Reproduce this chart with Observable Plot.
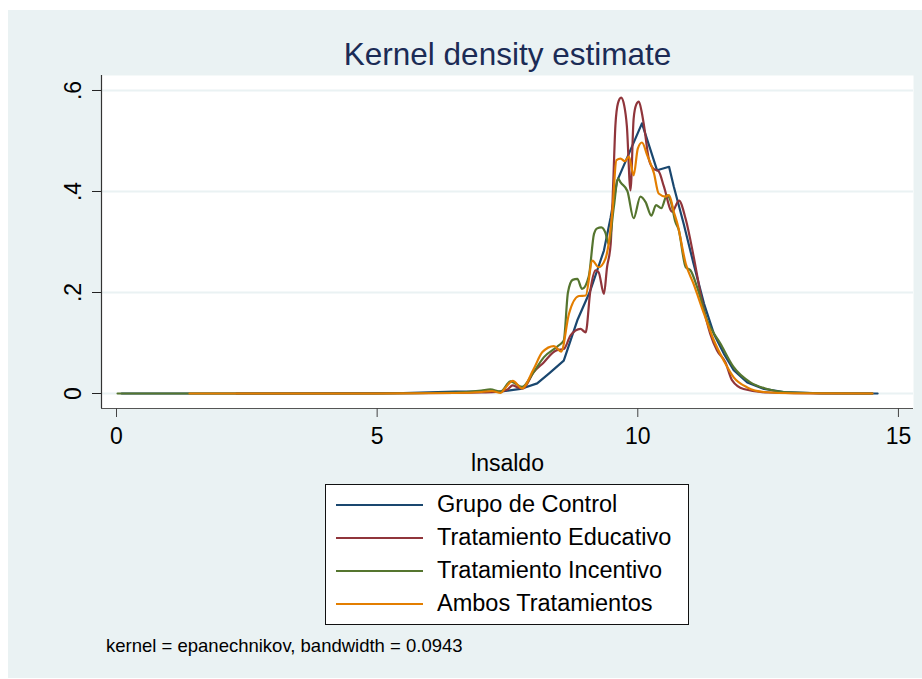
<!DOCTYPE html>
<html>
<head>
<meta charset="utf-8">
<script src="https://cdn.jsdelivr.net/npm/d3@7"></script>
<script src="https://cdn.jsdelivr.net/npm/@observablehq/plot@0.6"></script>
<style>
  html, body { margin: 0; padding: 0; background: #ffffff; }
  #wrap { position: relative; width: 922px; height: 679px; overflow: hidden; font-family: "Liberation Sans", Arial, sans-serif; }
  #bg { position: absolute; left: 8px; top: 10px; right: 0; bottom: 1px; background: #EAF2F3; }
  #chart { position: absolute; left: 0; top: 0; }
  #legend { position: absolute; left: 325px; top: 484px; width: 364px; height: 141px; box-sizing: border-box;
            border: 1px solid #111; background: #fff; padding-top: 3.5px; }
  .row { display: flex; align-items: center; height: 33px; }
  .sw { width: 87px; height: 2px; margin-left: 10px; margin-right: 14px; }
  .lab { font-size: 23.5px; line-height: 1; color: #000; white-space: nowrap; }
  #caption { position: absolute; left: 106px; top: 637.3px; font-size: 18.5px; line-height: 18.5px; color: #000; white-space: nowrap; }
</style>
</head>
<body>
<div id="wrap">
  <div id="bg"></div>
  <div id="chart"></div>
  <div id="legend"></div>
  <div id="caption"></div>
</div>
<script>
const seriesNames = ["Grupo de Control", "Tratamiento Educativo", "Tratamiento Incentivo", "Ambos Tratamientos"];
const seriesColors = ["#1a476f", "#90353b", "#55752f", "#e37e00"];

// [lnsaldo, density]
const control = [[0.1,0],[3.0,0],[5.5,0.001],[6.5,0.004],[7.0,0.004],[7.3,0.003],[7.75,0.009],[8.07,0.02],[8.3,0.04],[8.58,0.065],[8.84,0.145],[9.09,0.204],[9.35,0.283],[9.48,0.349],[9.6,0.42],[10.08,0.535],[10.37,0.442],[10.6,0.449],[10.69,0.41],[10.88,0.336],[11.07,0.257],[11.27,0.178],[11.46,0.118],[11.65,0.079],[11.84,0.046],[12.1,0.022],[12.42,0.009],[12.8,0.003],[13.5,0.0005],[14.6,0]];

const educativo = [[2.3,0],[5.0,0],[6.5,0.001],[7.0,0.002],[7.3,0.003],[7.5,0.008],[7.6,0.016],[7.7,0.012],[7.8,0.01],[8.0,0.042],[8.2,0.062],[8.36,0.08],[8.45,0.086],[8.58,0.088],[8.71,0.115],[8.9,0.128],[9.0,0.121],[9.09,0.204],[9.19,0.244],[9.25,0.24],[9.35,0.197],[9.41,0.25],[9.48,0.296],[9.53,0.42],[9.57,0.53],[9.62,0.575],[9.68,0.586],[9.74,0.57],[9.79,0.53],[9.86,0.402],[9.92,0.544],[9.97,0.572],[10.02,0.578],[10.07,0.56],[10.12,0.53],[10.21,0.465],[10.3,0.445],[10.4,0.44],[10.5,0.41],[10.66,0.36],[10.79,0.382],[10.92,0.345],[11.07,0.272],[11.23,0.184],[11.39,0.118],[11.52,0.085],[11.68,0.062],[11.81,0.026],[12.03,0.009],[12.5,0.002],[13.5,0],[14.5,0]];

const incentivo = [[0.02,0],[5.0,0],[6.5,0.002],[7.0,0.006],[7.17,0.008],[7.37,0.004],[7.56,0.024],[7.78,0.013],[8.0,0.042],[8.2,0.072],[8.48,0.095],[8.58,0.105],[8.66,0.2],[8.75,0.225],[8.84,0.227],[8.93,0.207],[9.06,0.232],[9.16,0.316],[9.22,0.327],[9.3,0.329],[9.38,0.318],[9.44,0.296],[9.54,0.369],[9.62,0.426],[9.67,0.418],[9.8,0.401],[9.92,0.347],[10.05,0.39],[10.15,0.379],[10.26,0.352],[10.35,0.373],[10.45,0.367],[10.56,0.393],[10.64,0.378],[10.72,0.34],[10.78,0.326],[10.92,0.25],[11.01,0.244],[11.14,0.21],[11.33,0.145],[11.59,0.098],[11.84,0.052],[12.16,0.022],[12.48,0.009],[12.8,0.003],[13.5,0.0005],[14.5,0]];

const ambos = [[1.4,0],[5.0,0],[6.5,0.001],[7.0,0.003],[7.2,0.005],[7.37,0.001],[7.45,0.01],[7.6,0.025],[7.78,0.01],[8.0,0.048],[8.17,0.082],[8.39,0.094],[8.53,0.083],[8.68,0.158],[8.87,0.193],[9.0,0.194],[9.13,0.263],[9.25,0.25],[9.38,0.267],[9.51,0.358],[9.59,0.462],[9.67,0.465],[9.75,0.46],[9.83,0.469],[9.92,0.432],[10.0,0.485],[10.08,0.497],[10.18,0.472],[10.31,0.436],[10.4,0.396],[10.53,0.39],[10.6,0.393],[10.69,0.36],[10.76,0.336],[10.92,0.257],[11.07,0.217],[11.27,0.158],[11.46,0.105],[11.65,0.065],[11.84,0.032],[12.1,0.012],[12.42,0.003],[13.0,0.0005],[14.5,0]];

const xTicks = [0, 5, 10, 15];
const yTicks = [0, 0.2, 0.4, 0.6];
const yTickLabels = ["0", ".2", ".4", ".6"];
const titleText = "Kernel density estimate";
const xLabel = "lnsaldo";
const captionText = "kernel = epanechnikov, bandwidth = 0.0943";

const xDomain = [-0.288, 15.289];
const yDomain = [-0.0297, 0.6297];

const seriesData = [control, educativo, incentivo, ambos];
const curves = ["linear", "monotone-x", "monotone-x", "monotone-x"];

const lineMarks = seriesData.map((pts, i) =>
  Plot.line(pts, {x: d => d[0], y: d => d[1], stroke: seriesColors[i], strokeWidth: 2.2, curve: curves[i]})
);

const chart = Plot.plot({
  width: 922,
  height: 679,
  marginLeft: 101,
  marginRight: 9,
  marginTop: 75,
  marginBottom: 271,
  x: {domain: xDomain},
  y: {domain: yDomain},
  style: {background: "transparent", fontFamily: "Liberation Sans, Arial, sans-serif", fontSize: "23px", color: "#000"},
  marks: [
    Plot.frame({fill: "white", stroke: null}),
    Plot.gridY(yTicks, {stroke: "#EAF2F3", strokeOpacity: 1, strokeWidth: 2}),
    ...lineMarks,
    Plot.ruleX([xDomain[0]], {stroke: "#333", strokeWidth: 1.2}),
    Plot.ruleY([yDomain[0]], {stroke: "#555", strokeWidth: 1.2}),
    Plot.axisX({ticks: xTicks, tickSize: 9, tickPadding: 10, label: null, stroke: "#444"}),
    Plot.axisY({ticks: yTicks, tickSize: 9, tickFormat: () => "", label: null, stroke: "#222"}),
    Plot.text(yTicks, {y: d => d, text: (d, i) => yTickLabels[i], frameAnchor: "left", dx: -28, rotate: -90, textAnchor: "middle", lineAnchor: "middle"}),
    Plot.text([xLabel], {text: d => d, frameAnchor: "bottom", dy: 62, lineAnchor: "bottom"}),
    Plot.text([titleText], {text: d => d, frameAnchor: "top", dy: -11, lineAnchor: "bottom", fontSize: 31.5, fill: "#1b2b55"})
  ]
});
document.getElementById("chart").appendChild(chart);

const legend = document.getElementById("legend");
seriesNames.forEach((name, i) => {
  const row = document.createElement("div");
  row.className = "row";
  const sw = document.createElement("div");
  sw.className = "sw";
  sw.style.background = seriesColors[i];
  const lab = document.createElement("div");
  lab.className = "lab";
  lab.textContent = name;
  row.appendChild(sw);
  row.appendChild(lab);
  legend.appendChild(row);
});
document.getElementById("caption").textContent = captionText;
</script>
</body>
</html>
